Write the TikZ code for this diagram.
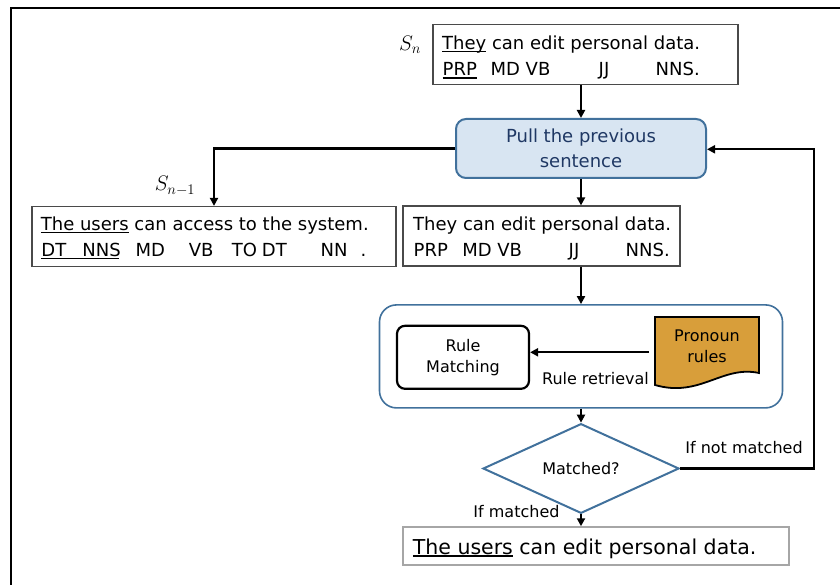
\documentclass[tikz,border=0pt]{standalone}
\usepackage{fix-cm}
\usepackage{fontspec}
\setmainfont{DejaVu Sans}
\usetikzlibrary{arrows.meta,shapes.geometric}

\definecolor{steel}{HTML}{41719C}
\definecolor{paleblue}{HTML}{D8E5F2}
\definecolor{navy}{HTML}{1F3864}
\definecolor{ochre}{HTML}{D89E3A}
\definecolor{boxgray}{HTML}{4A4A4A}
\definecolor{softgray}{HTML}{A6A6A6}

% underline a word with a rule just below the baseline
\newcommand\undr[1]{\setbox0\hbox{#1}\rlap{\rule[-2.6pt]{\wd0}{1.2pt}}\box0\relax}
% place a tag at a fixed offset (in pt) from the start of the line
\newcommand\tagat[2]{\rlap{\hspace*{#1pt}#2}}

\tikzset{
  textbox/.style={draw=boxgray, line width=1.2pt, inner sep=0pt},
  txt/.style={anchor=base west, inner sep=0pt, font=\fontsize{18}{21}\selectfont},
  small/.style={inner sep=0pt, font=\fontsize{16}{21.3}\selectfont},
  mathlab/.style={inner sep=0pt, font=\fontsize{21}{21}\selectfont},
  flow/.style={line width=2.3pt, -{Triangle[length=8pt,width=8pt]}},
}

\begin{document}
\begin{tikzpicture}[x=1pt,y=-1pt]
\useasboundingbox (0,0) rectangle (840,585);

% outer frame
\draw[line width=2pt] (11,600) -- (11,8) -- (850,8);

% current sentence S_n
\node[textbox, minimum width=305pt, minimum height=60pt] (sn) at (585.5,54.3) {};
\node[txt] (snA) at (442,49.5) {\undr{They} can edit personal data.};
\node[txt] (snB) at (442,76) {\tagat{0}{\undr{PRP}}\tagat{48}{MD}\tagat{83}{VB}\tagat{156}{JJ}\tagat{213}{NNS.}};
\node[mathlab] (snlab) at (410,45) {$S_n$};

% pull step
\node[draw=steel, fill=paleblue, line width=2pt, rounded corners=10pt,
      minimum width=250pt, minimum height=59pt, align=center,
      text=navy, font=\fontsize{18}{25}\selectfont] (pull) at (581,148.5)
      {Pull the previous\\sentence};

% previous sentence S_{n-1}
\node[textbox, minimum width=364pt, minimum height=60pt] (prev) at (214,236.5) {};
\node[txt] (prevA) at (40.7,230.5) {\undr{The users} can access to the system.};
\node[txt] (prevB) at (40.7,256.7) {\rlap{\rule[-2.6pt]{78pt}{1.2pt}}\tagat{0}{DT}\tagat{41}{NNS}\tagat{94.3}{MD}\tagat{147.5}{VB}\tagat{190.5}{TO}\tagat{220.5}{DT}\tagat{279.3}{NN}\tagat{319.3}{.}};
\node[mathlab] (prevlab) at (175,186) {$S_{n-1}$};

% copy of the current sentence
\node[textbox, minimum width=277pt, minimum height=60pt] (cur) at (541.5,236) {};
\node[txt] (curA) at (413,230.5) {They can edit personal data.};
\node[txt] (curB) at (413,256.7) {\tagat{0}{PRP}\tagat{48.7}{MD}\tagat{83.7}{VB}\tagat{155}{JJ}\tagat{212}{NNS.}};

% rule matching block
\node[draw=steel, line width=1.6pt, rounded corners=17pt,
      minimum width=403pt, minimum height=103pt] (block) at (581,356.4) {};
\node[draw, line width=2.2pt, rounded corners=8pt, minimum width=132pt,
      minimum height=63pt, align=center, font=\fontsize{16}{21.3}\selectfont]
      (match) at (463,357.3) {Rule\\Matching};
\draw[line width=1.8pt, fill=ochre] (655,317) -- (759,317) -- (759,373)
      .. controls (722,365) and (700,398) .. (655,385) -- cycle;
\node[small, align=center] (prules) at (707,346) {Pronoun\\rules};
\coordinate (retr) at (649,352.3);
\node[small] (retrlab) at (595.5,378.5) {Rule retrieval};

% decision
\node[draw=steel, line width=2pt, diamond, inner sep=0pt,
      minimum width=196pt, minimum height=67pt,
      font=\fontsize{16}{20}\selectfont] (dec) at (581,468.5) {Matched?};
\node[small] (nolab) at (744,447.5) {If not matched};
\node[small] (yeslab) at (516.5,512) {If matched};
\coordinate (loop) at (814,149.3);

% resolved sentence
\node[draw=softgray, line width=1.5pt, inner sep=0pt,
      minimum width=386pt, minimum height=38pt] (res) at (596,546) {};
\node[anchor=base west, inner sep=0pt, font=\fontsize{20.5}{24}\selectfont]
      (resA) at (412.7,554) {\undr{The users} can edit personal data.};

% connectors
\draw[flow] (sn.south -| pull.north) -- (pull.north);
\draw[flow] (pull.west) -| (prev.north);
\draw[flow] (pull.south) -- (pull.south |- cur.north);
\draw[flow] (cur.south -| block.north) -- (block.north);
\draw[flow] (retr) -- (match.east |- retr);
\draw[flow] (block.south) -- (dec.north);
\draw[flow] (dec.south) -- (dec.south |- res.north);
\draw[flow] (dec.east) -| (loop) -- (loop -| pull.east);
\end{tikzpicture}
\end{document}
